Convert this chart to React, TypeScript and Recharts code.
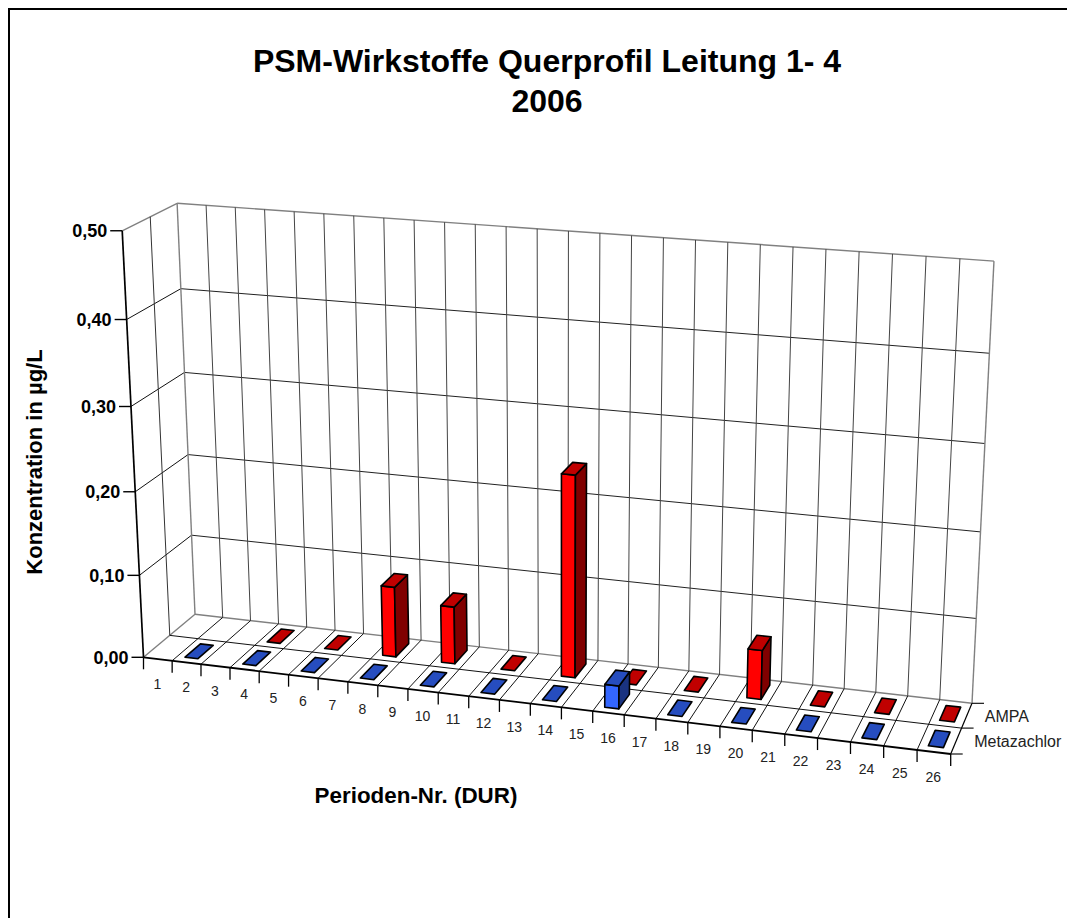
import { BarChart, Bar, XAxis, YAxis, CartesianGrid } from "recharts";

const categories = ["1","2","3","4","5","6","7","8","9","10","11","12","13","14","15","16","17","18","19","20","21","22","23","24","25","26"];
const ampa = [null,null,null,0,null,0,null,0.085,null,0.069,null,0,null,0.24,null,0,null,0,null,0.058,null,0,null,0,null,0];
const metazachlor = [null,0,null,0,null,0,null,0,null,0,null,0,null,0,null,0.027,null,0,null,0,null,0,null,0,null,0];
const yTicks = [0, 0.1, 0.2, 0.3, 0.4, 0.5];
const seriesNames = ["Metazachlor", "AMPA"];

const data = categories.map((name, i) => ({
  name,
  AMPA: ampa[i],
  Metazachlor: metazachlor[i],
}));

const WIDTH = 1067;
const HEIGHT = 910;
const FONT = '"Liberation Sans", Arial, sans-serif';

// flat plot rectangle recharts works in, everything is then projected to the 3D view
const LEFT = 100;
const TOP = 100;
const PLOT_W = 780;
const PLOT_H = 500;
const CAT_W = PLOT_W / categories.length;
const BAR_SIZE = 13.5;

// corners of the box in the picture (chart coordinates)
const floor = { a: [135.5, 649.3], b: [942.7, 746], c: [964, 695.3], d: [187, 606.3] };
const tops = [
  { s: 0, t: 0, p: [114.3, 222.7] },
  { s: 0, t: 1, p: [169, 195.7] },
  { s: 1, t: 1, p: [986, 252.7] },
];

function buildCamera() {
  const [x0, y0] = floor.a;
  const [x1, y1] = floor.b;
  const [x2, y2] = floor.c;
  const [x3, y3] = floor.d;
  const dx1 = x1 - x2, dx2 = x3 - x2, sx = x0 - x1 + x2 - x3;
  const dy1 = y1 - y2, dy2 = y3 - y2, sy = y0 - y1 + y2 - y3;
  const den = dx1 * dy2 - dx2 * dy1;
  const g = (sx * dy2 - dx2 * sy) / den;
  const h = (dx1 * sy - sx * dy1) / den;
  const a = x1 - x0 + g * x1, b = x3 - x0 + h * x3, c = x0;
  const d = y1 - y0 + g * y1, e = y3 - y0 + h * y3, f = y0;

  // least squares for the column of the height axis
  const N = [[0, 0, 0], [0, 0, 0], [0, 0, 0]];
  const R = [0, 0, 0];
  const add = (row: number[], rhs: number) => {
    for (let i = 0; i < 3; i++) {
      for (let j = 0; j < 3; j++) N[i][j] += row[i] * row[j];
      R[i] += row[i] * rhs;
    }
  };
  tops.forEach(({ s, t, p }) => {
    const hx = a * s + b * t + c, hy = d * s + e * t + f, hw = g * s + h * t + 1;
    add([1, 0, -p[0]], p[0] * hw - hx);
    add([0, 1, -p[1]], p[1] * hw - hy);
  });
  for (let i = 0; i < 3; i++) {
    for (let k = i + 1; k < 3; k++) {
      const m = N[k][i] / N[i][i];
      for (let j = i; j < 3; j++) N[k][j] -= m * N[i][j];
      R[k] -= m * R[i];
    }
  }
  const pw = R[2] / N[2][2];
  const py = (R[1] - N[1][2] * pw) / N[1][1];
  const px = (R[0] - N[0][1] * py - N[0][2] * pw) / N[0][0];
  return { a, b, c, d, e, f, g, h, px, py, pw };
}

const cam = buildCamera();

// u: 0..26 along categories, v: 0..2 into the depth, w: 0..1 of the value axis
function project(u: number, v: number, w: number) {
  const s = u / categories.length;
  const t = v / 2;
  const q = cam.g * s + cam.h * t + 1 + cam.pw * w;
  return {
    x: (cam.a * s + cam.b * t + cam.c + cam.px * w) / q,
    y: (cam.d * s + cam.e * t + cam.f + cam.py * w) / q,
  };
}

const toU = (x: number) => (x - LEFT) / CAT_W;
const toW = (y: number) => (TOP + PLOT_H - y) / PLOT_H;

function poly(points: { x: number; y: number }[]) {
  return points.map((p) => `${p.x.toFixed(2)},${p.y.toFixed(2)}`).join(" ");
}

function Edge3D({ from, to, stroke = "#333", width = 1 }: any) {
  const p = project(from[0], from[1], from[2]);
  const q = project(to[0], to[1], to[2]);
  return <line x1={p.x} y1={p.y} x2={q.x} y2={q.y} stroke={stroke} strokeWidth={width} />;
}

const GREY = "#808080";

function makeBarShape(dataKey: string, depth: number, front: string, side: string, top: string) {
  return function BarShape(props: any) {
    if (props.payload == null || props.payload[dataKey] == null) return null;
    const u0 = toU(props.x);
    const u1 = toU(props.x + props.width);
    const w = props.payload[dataKey] / 0.5;
    const v0 = depth + 0.2;
    const v1 = depth + 0.8;
    const common = { stroke: "#000", strokeWidth: 1.6, strokeLinejoin: "round" as const };
    return (
      <g>
        {w > 0 && (
          <>
            <polygon points={poly([project(u0, v0, 0), project(u1, v0, 0), project(u1, v0, w), project(u0, v0, w)])} fill={front} {...common} />
            <polygon points={poly([project(u1, v0, 0), project(u1, v1, 0), project(u1, v1, w), project(u1, v0, w)])} fill={side} {...common} />
          </>
        )}
        <polygon points={poly([project(u0, v0, w), project(u1, v0, w), project(u1, v1, w), project(u0, v1, w)])} fill={top} {...common} />
      </g>
    );
  };
}

const ampaShape = makeBarShape("AMPA", 1, "#FF0000", "#800000", "#C00000");
const metaShape = makeBarShape("Metazachlor", 0, "#3366FF", "#1A3380", "#264DBF");

function HorizontalLine(props: any) {
  const w = toW(props.y1);
  const edge = w < 0.001 || w > 0.999;
  return (
    <g key={`h-${props.index}`}>
      <Edge3D from={[0, 2, w]} to={[26, 2, w]} stroke={edge ? GREY : "#222"} width={edge ? 1.4 : 1} />
      <Edge3D from={[0, 0, w]} to={[0, 2, w]} stroke={edge ? GREY : "#111"} width={edge ? 1.4 : 1} />
    </g>
  );
}

function VerticalLine(props: any) {
  const u = Math.round(toU(props.x1));
  if (u <= 0 || u >= 26) return <g key={`v-${props.index}`} />;
  return (
    <g key={`v-${props.index}`}>
      <Edge3D from={[u, 2, 0]} to={[u, 2, 1]} stroke="#444" />
      <Edge3D from={[u, 0, 0]} to={[u, 2, 0]} stroke="#111" />
    </g>
  );
}

function XTick(props: any) {
  const u = toU(props.x);
  const label = project(u, 0, 0);
  const boundaries = props.index === 0 ? [u - 0.5, u + 0.5] : [u + 0.5];
  return (
    <g>
      {boundaries.map((b) => {
        const p = project(b, 0, 0);
        return <line key={b} x1={p.x} y1={p.y} x2={p.x} y2={p.y + 12} stroke="#000" strokeWidth={1.3} />;
      })}
      <text x={label.x - 0.5} y={label.y + 30} textAnchor="middle" fontFamily={FONT} fontSize={14} fill="#222">
        {props.payload.value}
      </text>
    </g>
  );
}

function YTick(props: any) {
  const p = project(0, 0, toW(props.y));
  return (
    <g>
      <line x1={p.x - 12} y1={p.y} x2={p.x} y2={p.y} stroke="#000" strokeWidth={1.4} />
      <text x={p.x - 15} y={p.y + 6.5} textAnchor="end" fontFamily={FONT} fontSize={18} fontWeight="bold" fill="#000">
        {Number(props.payload.value).toFixed(2).replace(".", ",")}
      </text>
    </g>
  );
}

function BoxEdges() {
  const ticks = [0, 1, 2].map((v) => project(26, v, 0));
  return (
    <g>
      <Edge3D from={[0, 0, 0]} to={[0, 0, 1]} stroke="#000" width={1.7} />
      <Edge3D from={[0, 0, 0]} to={[26, 0, 0]} stroke="#000" width={1.8} />
      <Edge3D from={[0, 1, 0]} to={[26, 1, 0]} stroke="#111" />
      <Edge3D from={[0, 1, 0]} to={[0, 1, 1]} stroke="#333" />
      <Edge3D from={[0, 2, 0]} to={[0, 2, 1]} stroke={GREY} width={1.4} />
      <Edge3D from={[26, 2, 0]} to={[26, 2, 1]} stroke={GREY} width={1.4} />
      <Edge3D from={[26, 0, 0]} to={[26, 2, 0]} stroke="#000" width={1.2} />
      {ticks.map((p, i) => (
        <line key={i} x1={p.x} y1={p.y} x2={p.x + 12} y2={p.y} stroke="#000" strokeWidth={1.1} />
      ))}
      {seriesNames.map((name, i) => {
        const p = project(26, i + 0.5, 0);
        return (
          <text key={name} x={p.x + 18} y={p.y + 6} fontFamily={FONT} fontSize={16} fill="#222">
            {name}
          </text>
        );
      })}
    </g>
  );
}

export default function App() {
  return (
    <div
      style={{
        position: "relative",
        width: WIDTH,
        height: HEIGHT,
        boxSizing: "border-box",
        borderTop: "2px solid #000",
        borderLeft: "2px solid #000",
      }}
    >
      <div style={{ position: "absolute", left: -2, top: -2 }}>
        <BarChart
          width={WIDTH}
          height={HEIGHT}
          data={data}
          barSize={BAR_SIZE}
          barGap={-BAR_SIZE}
          margin={{ left: LEFT - 1, top: TOP, right: WIDTH - LEFT - PLOT_W, bottom: HEIGHT - TOP - PLOT_H - 1 }}
        >
          <CartesianGrid horizontal={HorizontalLine} vertical={VerticalLine} />
          <XAxis dataKey="name" interval={0} height={1} axisLine={false} tickLine={false} tick={XTick} />
          <YAxis domain={[0, 0.5]} ticks={yTicks} width={1} axisLine={false} tickLine={false} tick={YTick} />
          <Bar dataKey="AMPA" shape={ampaShape} isAnimationActive={false} />
          <Bar dataKey="Metazachlor" shape={metaShape} isAnimationActive={false} />
          <BoxEdges />
          <text x={539} y={64} textAnchor="middle" fontFamily={FONT} fontSize={32} fontWeight="bold" fill="#000">
            PSM-Wirkstoffe Querprofil Leitung 1- 4
          </text>
          <text x={539} y={104} textAnchor="middle" fontFamily={FONT} fontSize={32} fontWeight="bold" fill="#000">
            2006
          </text>
          <text
            transform="translate(34 454) rotate(-90)"
            textAnchor="middle"
            fontFamily={FONT}
            fontSize={22}
            fontWeight="bold"
            fill="#000"
          >
            Konzentration in µg/L
          </text>
          <text x={408} y={795} textAnchor="middle" fontFamily={FONT} fontSize={22.4} fontWeight="bold" fill="#000">
            Perioden-Nr. (DUR)
          </text>
        </BarChart>
      </div>
    </div>
  );
}
